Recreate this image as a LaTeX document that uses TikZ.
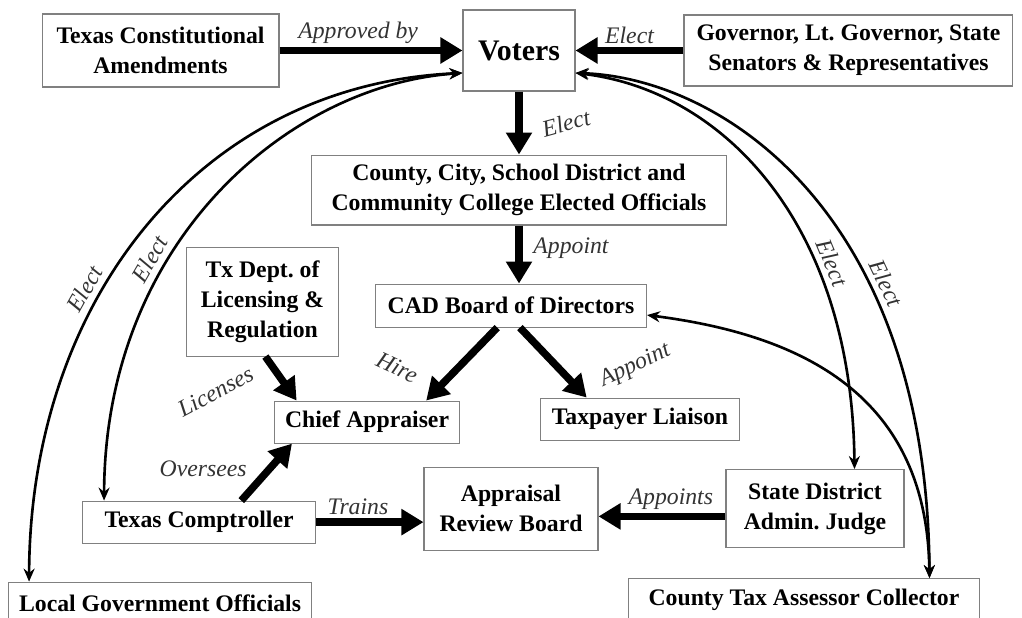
\documentclass[tikz,border=0pt]{standalone}
\usepackage{fontspec}
\setmainfont{Liberation Serif}
\usetikzlibrary{positioning,arrows.meta}

\begin{document}
\begin{tikzpicture}[x=0.02cm,y=-0.02cm,
    box/.style={draw=black!50,line width=0.6pt,align=center,inner sep=0.05cm,font=\fontsize{13.5}{17}\selectfont\bfseries},
    lbl/.style={font=\fontsize{13.5}{16}\selectfont\itshape,text=black!80,inner sep=2pt},
    bigarrow/.style={line width=0.15cm,-{Triangle[length=0.44cm,width=0.5cm]}},
    elect/.style={line width=1.5pt,{Stealth[length=0.26cm,width=0.22cm]}-{Stealth[length=0.26cm,width=0.22cm]}}]
    \useasboundingbox (0,0) rectangle (1022,618);
    \node[box, minimum width=2.24cm, minimum height=1.62cm, font=\fontsize{17}{20}\selectfont\bfseries] (voters) at (519,50.5) {Voters};
    \node[box, minimum width=4.74cm, minimum height=1.46cm, left=3.66cm of voters] (amend) {Texas Constitutional\\Amendments};
    \node[box, minimum width=6.58cm, minimum height=1.42cm, right=2.16cm of voters] (gov) {Governor, Lt.\ Governor, State\\Senators \& Representatives};
    \node[box, minimum width=8.3cm, minimum height=1.4cm, below=1.26cm of voters] (county) {County, City, School District and\\Community College Elected Officials};
    \node[box, minimum width=5.42cm, minimum height=0.86cm, below=1.16cm of county, xshift=-0.16cm] (cad) {CAD Board of Directors};
    \node[box, minimum width=3.04cm, minimum height=2.18cm, left=0.72cm of cad, yshift=0.08cm] (txdept) {Tx Dept.\ of\\Licensing \&\\Regulation};
    \node[box, minimum width=3.7cm, minimum height=0.84cm, below=1.46cm of cad, xshift=-2.88cm] (chief) {Chief Appraiser};
    \node[box, minimum width=3.98cm, minimum height=0.84cm, below=1.4cm of cad, xshift=2.58cm] (taxpayer) {Taxpayer Liaison};
    \node[box, minimum width=3.48cm, minimum height=1.66cm, below=2.78cm of cad] (arb) {Appraisal\\Review Board};
    \node[box, minimum width=3.56cm, minimum height=1.56cm, right=2.54cm of arb] (judge) {State District\\Admin.\ Judge};
    \node[box, minimum width=4.66cm, minimum height=0.84cm, below=1.14cm of chief, xshift=-3.36cm] (comptroller) {Texas Comptroller};
    \node[box, minimum width=6.06cm, minimum height=0.86cm, below=0.76cm of comptroller, xshift=-0.78cm] (local) {Local Government Officials};
    \node[box, minimum width=7.04cm, minimum height=0.86cm, below=0.6cm of judge, xshift=-0.22cm] (ctac) {County Tax Assessor Collector};
    \path[bigarrow]
        (amend) edge node[lbl, above, pos=0.43] {Approved by} (voters)
        (gov) edge node[lbl, above] {Elect} (voters)
        (voters) edge node[lbl, xshift=0.94cm, rotate=15] {Elect} (county)
        (county.south) edge node[lbl, xshift=1.04cm, yshift=0.12cm] {Appoint} (county.south |- cad.north)
        (cad.238) edge node[lbl, xshift=-1.29cm, yshift=-0.07cm, rotate=-25] {Hire} (chief.20)
        (cad.292) edge node[lbl, xshift=1.64cm, yshift=-0.06cm, rotate=25] {Appoint} (taxpayer.158)
        (txdept.273) edge node[lbl, xshift=-1.31cm, yshift=-0.26cm, rotate=28] {Licenses} (chief.163)
        (comptroller.27) edge node[lbl, xshift=-1.27cm, yshift=0.07cm] {Oversees} (chief.196)
        (comptroller.east) edge node[lbl, above, pos=0.39] {Trains} (comptroller.east -| arb.west)
        (judge.185) edge node[lbl, above, pos=0.43] {Appoints} (judge.185 -| arb.east);
    \draw[elect] ([yshift=-0.45cm]voters.west) .. controls (200,85) and (30,300) .. ([xshift=0.42cm]local.north west)
        node[lbl, sloped, above, pos=0.62, inner sep=4pt] {Elect};
    \draw[elect] ([yshift=-0.45cm]voters.west) .. controls (290,85) and (105,240) .. ([xshift=0.44cm]comptroller.north west)
        node[lbl, sloped, above, pos=0.65, inner sep=4pt] {Elect};
    \draw[elect] ([yshift=-0.45cm]voters.east) .. controls (720,90) and (852,220) .. ([xshift=-1cm]judge.north east)
        node[lbl, sloped, above, pos=0.685, inner sep=4pt] {Elect};
    \draw[elect] ([yshift=-0.45cm]voters.east) .. controls (720,78) and (927,210) .. ([xshift=-1.02cm]ctac.north east)
        node[lbl, sloped, above, pos=0.675, inner sep=4pt] {Elect};
    \draw[elect] ([yshift=-0.19cm]cad.east) .. controls (802,335) and (927,395) .. ([xshift=-1.02cm]ctac.north east);
\end{tikzpicture}
\end{document}
